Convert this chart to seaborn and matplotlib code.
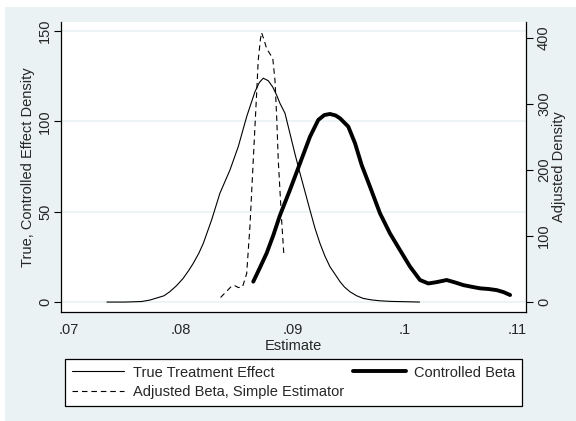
import numpy as np
import pandas as pd
import seaborn as sns
import matplotlib.pyplot as plt
from matplotlib.patches import Rectangle

# density curves
true_x = [0.0734, 0.0750, 0.0765, 0.07723, 0.0785, 0.0790, 0.0796, 0.0802, 0.0807, 0.0811,
          0.0816, 0.0820, 0.08274, 0.08348, 0.08438, 0.08512, 0.08587, 0.08661, 0.0870,
          0.08735, 0.0878, 0.0882, 0.08854, 0.08884, 0.08929, 0.08973, 0.09018, 0.09063,
          0.09108, 0.09152, 0.09196, 0.09241, 0.09285, 0.0933, 0.0938, 0.0942, 0.0946,
          0.09509, 0.09568, 0.09628, 0.0970, 0.09777, 0.0988, 0.1000, 0.1013]
true_y = [0.0, 0.0, 0.3, 1.1, 3.5, 5.7, 9.0, 13.1, 17.5, 21.4,
          27.0, 32.5, 45.4, 60.2, 73.1, 86.0, 102.6, 116.4, 121.5,
          123.9, 122.5, 119.0, 114.6, 110.0, 104.5, 93.4, 82.0, 71.3,
          61.0, 50.9, 41.0, 32.5, 25.5, 19.6, 15.0, 11.3, 8.3,
          5.7, 3.5, 2.0, 1.2, 0.7, 0.35, 0.2, 0.0]

ctrl_x = [0.08646, 0.08705, 0.08765, 0.08825, 0.08884, 0.08973, 0.09063, 0.09152, 0.09226,
          0.0928, 0.0933, 0.0938, 0.0942, 0.09494, 0.09554, 0.09613, 0.09688, 0.09777,
          0.09866, 0.09955, 0.10045, 0.10134, 0.10208, 0.1028, 0.10372, 0.1045, 0.1052,
          0.1060, 0.1067, 0.1075, 0.10819, 0.1088, 0.10938]
ctrl_y = [11.3, 19.0, 27.0, 37.0, 48.0, 62.0, 76.8, 91.5, 100.8,
          103.5, 104.1, 103.3, 101.7, 97.1, 87.9, 75.9, 63.8, 49.1,
          38.0, 28.8, 19.6, 12.2, 10.3, 11.0, 12.2, 10.8, 9.4,
          8.4, 7.6, 7.2, 6.6, 5.5, 3.9]

adj_x = [0.08354, 0.0840, 0.08452, 0.0848, 0.08512, 0.0855, 0.08587, 0.08616, 0.08646,
         0.08676, 0.0869, 0.0871, 0.0872, 0.0874, 0.08765, 0.0879, 0.0882, 0.0884,
         0.08855, 0.08869, 0.08899, 0.0892]
adj_y = [7, 15, 24, 25, 22, 23, 43, 114, 215,
         316, 366, 398, 408, 398, 384, 377, 369, 335,
         280, 215, 124, 69]

x_ticks = [0.07, 0.08, 0.09, 0.10, 0.11]
x_tick_labels = ['.07', '.08', '.09', '.1', '.11']
left_ticks = [0, 50, 100, 150]
right_ticks = [0, 100, 200, 300, 400]

sns.set_style('white')
plt.rcParams['font.family'] = ['Liberation Sans', 'DejaVu Sans']
plt.rcParams['font.size'] = 10

bg = '#eaf2f3'
fig = plt.figure(figsize=(5.76, 4.21), dpi=100, facecolor='white')
fig.patches.append(Rectangle((5 / 576, 0), 571 / 576, 414 / 421, transform=fig.transFigure,
                             facecolor=bg, edgecolor='none', zorder=-10))

ax = fig.add_axes([61 / 576, 109 / 421, 465 / 576, 290 / 421])
ax.set_facecolor('white')
ax2 = ax.twinx()

df_true = pd.DataFrame({'x': true_x, 'y': true_y})
df_ctrl = pd.DataFrame({'x': ctrl_x, 'y': ctrl_y})
df_adj = pd.DataFrame({'x': adj_x, 'y': adj_y})

sns.lineplot(data=df_true, x='x', y='y', ax=ax, color='black', lw=0.8,
             sort=False, estimator=None, legend=False, label='True Treatment Effect')
sns.lineplot(data=df_ctrl, x='x', y='y', ax=ax, color='black', lw=2.8,
             sort=False, estimator=None, legend=False, label='Controlled Beta')
sns.lineplot(data=df_adj, x='x', y='y', ax=ax2, color='black', lw=0.8,
             sort=False, estimator=None, legend=False, label='Adjusted Beta, Simple Estimator')
ax2.get_lines()[0].set_linestyle((0, (5, 3.5)))
for ln in ax.get_lines() + ax2.get_lines():
    ln.set_solid_joinstyle('round')
    ln.set_dash_joinstyle('round')
ax.get_lines()[1].set_solid_capstyle('round')

for a in (ax, ax2):
    if a.get_legend() is not None:
        a.get_legend().remove()

ax.set_xlim(0.0693, 0.1108)
ax.set_ylim(-5.5, 155)
ax2.set_ylim(-15, 424)

ax.set_xticks(x_ticks, x_tick_labels)
ax.set_yticks(left_ticks)
ax2.set_yticks(right_ticks)
ax.yaxis.grid(True, color=bg, lw=1.2)
ax.set_axisbelow(True)

for a in (ax, ax2):
    a.tick_params(axis='both', direction='out', length=5, width=0.8, color='black',
                  labelsize=10.5, pad=3)
ax.tick_params(axis='y', labelrotation=90, left=True, pad=1.5)
ax2.tick_params(axis='y', labelrotation=90, right=True, pad=3)
plt.setp(ax.get_yticklabels(), va='center')
plt.setp(ax2.get_yticklabels(), va='center')

for s in ['top', 'right']:
    ax.spines[s].set_visible(False)
for s in ['top', 'left', 'bottom']:
    ax2.spines[s].set_visible(False)
for sp in [ax.spines['left'], ax.spines['bottom'], ax2.spines['right']]:
    sp.set_color('black')
    sp.set_linewidth(0.9)

ax.set_xlabel('Estimate', fontsize=10.5, labelpad=1.5)
ax.set_ylabel('True, Controlled Effect Density', fontsize=10.5, labelpad=2)
ax2.set_ylabel('Adjusted Density', fontsize=10.5, labelpad=0.5)

handles = [ax.get_lines()[0], ax2.get_lines()[0], ax.get_lines()[1]]
labels = [h.get_label() for h in handles]
leg = fig.legend(handles, labels, loc='upper left', ncol=2, mode='expand',
                 bbox_to_anchor=(65.3 / 576, 0, 457 / 576, 62 / 421), borderaxespad=0,
                 fancybox=False, framealpha=1, edgecolor='black', fontsize=10.5,
                 handlelength=3.6, handletextpad=0.6, labelspacing=0.4, borderpad=0.45)
leg.get_frame().set_linewidth(0.9)

fig.savefig('out.png', dpi=100, facecolor=fig.get_facecolor())
